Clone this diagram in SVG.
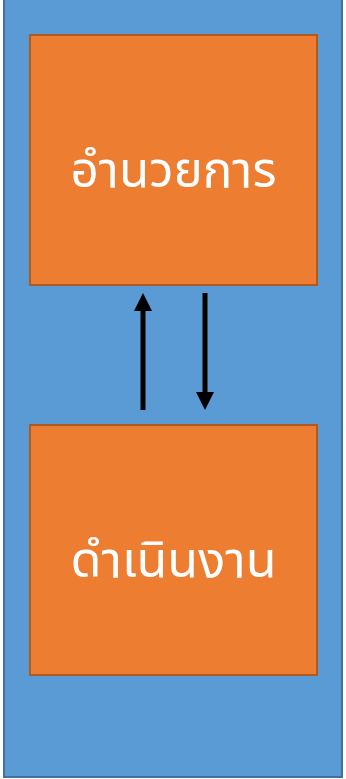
<svg xmlns="http://www.w3.org/2000/svg" width="346" height="779" viewBox="0 0 346 779">
  <defs>
    <style>
      .panel { fill: #5B9BD5; stroke: #41719C; stroke-width: 2; }
      .box { fill: #ED7D31; stroke: #AE5A21; stroke-width: 2; }
      .label { fill: #FFFFFF; font-family: "Leelawadee UI", "Noto Sans Thai", Tahoma, "DejaVu Sans", "Noto Sans", sans-serif; font-size: 50px; text-anchor: middle; }
      .shaft { stroke: #000000; stroke-width: 5; fill: none; }
      .head { fill: #000000; }
    </style>
  </defs>

  <!-- outer container -->
  <rect class="panel" x="4" y="-2" width="338" height="779"/>

  <g id="node-admin">
    <rect class="box" x="30" y="35" width="287" height="250"/>
    <text class="label" x="173.5" y="187" textLength="206" lengthAdjust="spacingAndGlyphs">อำนวยการ</text>
  </g>

  <g id="node-operation">
    <rect class="box" x="30" y="425" width="287" height="250"/>
    <text class="label" x="173.5" y="577" textLength="206" lengthAdjust="spacingAndGlyphs">ดำเนินงาน</text>
  </g>

  <g id="connectors">
    <!-- up: operation to admin -->
    <line class="shaft" x1="143" y1="410" x2="143" y2="310"/>
    <polygon class="head" points="143,293 134,311 152,311"/>
    <!-- down: admin to operation -->
    <line class="shaft" x1="205" y1="293" x2="205" y2="393"/>
    <polygon class="head" points="205,410 196,392 214,392"/>
  </g>
</svg>
